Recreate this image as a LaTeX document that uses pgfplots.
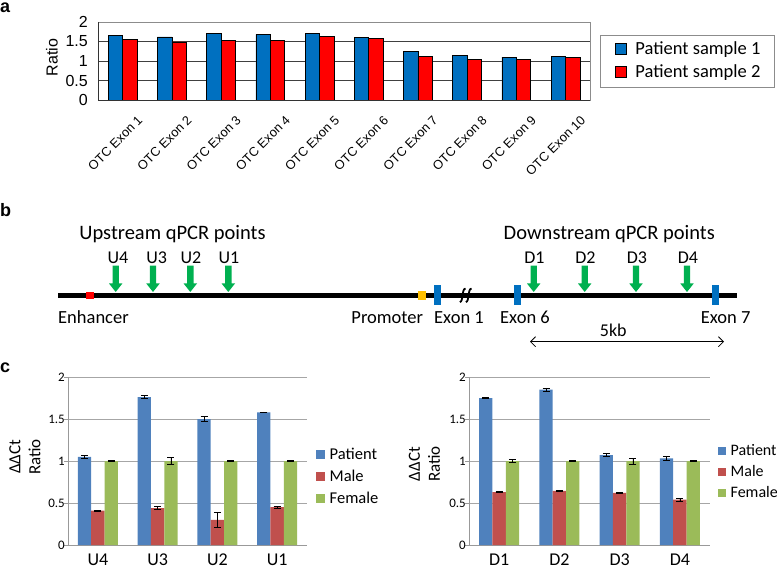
\documentclass[border=0pt]{standalone}
\usepackage{fontspec}
\setmainfont{Carlito}
\newfontfamily\arial{Liberation Sans}
\usepackage{pgfplots}
\pgfplotsset{compat=1.18}
\usetikzlibrary{arrows.meta}
\definecolor{aBlue}{HTML}{0070C0}
\definecolor{aRed}{HTML}{FF0000}
\definecolor{cBlue}{HTML}{4F81BD}
\definecolor{cRed}{HTML}{C0504D}
\definecolor{cGreen}{HTML}{9BBB59}
\definecolor{arrGreen}{HTML}{00B050}
\definecolor{promYel}{HTML}{FFC000}
\definecolor{exBlue}{HTML}{0070C0}
\newcommand{\fs}[1]{\fontsize{#1}{#1}\selectfont}
\newcommand{\garrow}[1]{\fill[arrGreen] (#1-3.2,300.3) -- (#1+3.2,300.3) -- (#1+3.2,282.5) -- (#1+6.7,282.5) -- (#1,274) -- (#1-6.7,282.5) -- (#1-3.2,282.5) -- cycle;}
\pgfplotsset{
  sqlegend/.style={legend image code/.code={\fill[##1] (0pt,-4.5pt) rectangle (11pt,6.5pt);}},
  smallsq/.style={legend image code/.code={\fill[##1] (0pt,-3pt) rectangle (8.5pt,5.5pt);}},
  tinysq/.style={legend image code/.code={\fill[##1] (0pt,-2.5pt) rectangle (7.5pt,5pt);}},
  cbars/.style={
    scale only axis, width=#1, height=168pt,
    xmin=0.5, xmax=4.5, ymin=0, ymax=2,
    ybar=0pt, bar width=13.3pt,
    xtick={1,2,3,4},
    ytick={0,0.5,1,1.5,2},
    ymajorgrids, grid style={black!35, line width=0.8pt},
    axis x line*=bottom, axis y line*=left,
    axis line style={black!40, line width=0.8pt, -},
    x tick style={draw=none},
    y tick style={black!40, line width=0.8pt},
    tick align=outside, major tick length=4pt,
    /pgf/number format/assume math mode=true,
    yticklabel style={font=\fs{13}, inner xsep=1pt, xshift=2pt},
    xticklabel style={font=\fs{18}, anchor=base, inner sep=0pt, yshift=-16pt},
  },
  ebar/.style={error bars/.cd, y dir=both, y explicit,
    error bar style={black, line width=0.7pt},
    error mark options={rotate=90, black, mark size=3.5pt, line width=0.7pt}},
}
\begin{document}
\begin{tikzpicture}[x=1pt,y=1pt]
\useasboundingbox (0,0) rectangle (777,566);
% ---------------- panel a ----------------
\node[anchor=base west, inner sep=0pt, font=\arial\bfseries\fs{18}] at (0,553) {a};
\begin{axis}[
  at={(98pt,466pt)}, anchor=south west, scale only axis,
  width=492pt, height=78pt,
  xmin=0.5, xmax=10.5, ymin=0, ymax=2,
  ybar=0pt, bar width=14.4pt,
  xtick={1,...,10},
  xticklabels={},
  ytick={0,0.5,1,1.5,2},
  extra y ticks={0.5,1,1.5}, extra y tick labels={},
  extra y tick style={grid=major, grid style={black!75, line width=0.8pt}},
  major tick length=0pt,
  axis line style={black!45, line width=0.8pt},
  /pgf/number format/assume math mode=true,
  yticklabel style={font=\arial\fs{16}, inner xsep=0pt, xshift=-10pt},
  ylabel={Ratio},
  every axis y label/.style={at={(axis description cs:-0.0935,0.542)}, rotate=90, anchor=center, font=\arial\fs{16}},
  sqlegend,
  legend cell align=left,
  legend style={at={(1.0203,0.497)}, anchor=west, draw=black!45, line width=0.8pt,
    inner xsep=14.5pt, inner ysep=6pt, font=\fs{18.5}, row sep=6.3pt,
    nodes={inner sep=0pt, text height=13pt, text depth=4pt},
    /tikz/every odd column/.style={column sep=9pt}},
  clip=false,
]
\addplot[fill=aBlue, draw=black, line width=0.6pt] coordinates {
(1,1.65) (2,1.62) (3,1.71) (4,1.68) (5,1.70) (6,1.60) (7,1.24) (8,1.15) (9,1.10) (10,1.12)};
\addlegendentry{Patient sample 1}
\addplot[fill=aRed, draw=black, line width=0.6pt] coordinates {
(1,1.55) (2,1.49) (3,1.53) (4,1.53) (5,1.63) (6,1.57) (7,1.11) (8,1.05) (9,1.05) (10,1.09)};
\addlegendentry{Patient sample 2}
\draw[black!80, line width=0.8pt] (rel axis cs:0,1) -- (rel axis cs:0,0) -- (rel axis cs:1,0);
\pgfplotsinvokeforeach{1,...,10}{
  \node[rotate=45, anchor=east, inner sep=0pt, font=\arial\fs{12.8}] at ([xshift=17.7pt, yshift=-18pt]axis cs:#1,0) {OTC Exon #1};
}
\end{axis}
% ---------------- panel b ----------------
\node[anchor=base west, inner sep=0pt, font=\arial\bfseries\fs{18}] at (0,349) {b};
\node[anchor=base, inner sep=0pt, font=\fs{20.5}] at (172.5,326) {Upstream qPCR points};
\node[anchor=base, inner sep=0pt, font=\fs{20.5}] at (609.3,326) {Downstream qPCR points};
\draw[line width=5.5pt] (58,270.5) -- (737,270.5);
\fill[red] (86.3,266.7) rectangle (93.7,274.3);
\fill[promYel] (418.3,266.5) rectangle (426.3,274.5);
\fill[exBlue] (433.6,261) rectangle (440.6,281);
\fill[exBlue] (514,261) rectangle (521,281);
\fill[exBlue] (712.2,261) rectangle (719,281);
\draw[line width=1.8pt] (459.8,264) .. controls (463.5,264) and (461.5,277) .. (465.5,277.5);
\draw[line width=1.8pt] (465.8,264) .. controls (469.5,264) and (467.5,277) .. (471.5,277.5);
\garrow{115.7}\garrow{153}\garrow{190.3}\garrow{228.3}
\garrow{533.7}\garrow{584.7}\garrow{636}\garrow{687}
\foreach \x/\t in {118/U4,156.7/U3,191/U2,229/U1,534.5/D1,585.5/D2,637/D3,688/D4}
  \node[anchor=base, inner sep=0pt, font=\fs{18}] at (\x,302) {\t};
\node[anchor=base west, inner sep=0pt, font=\fs{18.5}] at (58,243) {Enhancer};
\node[anchor=base east, inner sep=0pt, font=\fs{18.5}] at (423.3,243) {Promoter};
\node[anchor=base west, inner sep=0pt, font=\fs{18.5}] at (434,243) {Exon 1};
\node[anchor=base west, inner sep=0pt, font=\fs{18.5}] at (500,243) {Exon 6};
\node[anchor=base west, inner sep=0pt, font=\fs{18.5}] at (700.7,243) {Exon 7};
\node[anchor=base, inner sep=0pt, font=\fs{18}] at (613.3,229.3) {5kb};
\draw[line width=0.8pt, {Straight Barb[length=5pt,width=10pt]}-{Straight Barb[length=5pt,width=10pt]}] (530,224.3) -- (724,224.3);
% ---------------- panel c ----------------
\node[anchor=base west, inner sep=0pt, font=\arial\bfseries\fs{18}] at (0,194) {c};
\begin{axis}[
  at={(68pt,21pt)}, anchor=south west, cbars=239pt, smallsq,
  xticklabels={U4,U3,U2,U1},
  ylabel={ΔΔCt\\Ratio},
  every axis y label/.style={at={(axis description cs:-0.18,0.524)}, rotate=90, anchor=center, align=center, font=\fontsize{17}{20}\selectfont},
  legend cell align=left,
  legend style={at={(1.0377,0.399)}, anchor=west, draw=none, fill=none, font=\fs{16.5}, row sep=7pt,
    inner sep=0pt, nodes={inner sep=0pt, text height=11pt, text depth=4pt},
    /tikz/every odd column/.style={column sep=5pt}},
]
\addplot[fill=cBlue, draw=none, ebar] coordinates {(1,1.05) +- (0,0.015) (2,1.76) +- (0,0.02) (3,1.50) +- (0,0.03) (4,1.58) +- (0,0.005)};
\addlegendentry{Patient}
\addplot[fill=cRed, draw=none, ebar] coordinates {(1,0.41) +- (0,0.005) (2,0.44) +- (0,0.015) (3,0.30) +- (0,0.09) (4,0.45) +- (0,0.01)};
\addlegendentry{Male}
\addplot[fill=cGreen, draw=none, ebar] coordinates {(1,1.00) +- (0,0.01) (2,1.00) +- (0,0.04) (3,1.00) +- (0,0.005) (4,1.00) +- (0,0.01)};
\addlegendentry{Female}
\end{axis}
\begin{axis}[
  at={(469pt,21pt)}, anchor=south west, cbars=241pt, tinysq,
  xticklabels={D1,D2,D3,D4},
  ylabel={ΔΔCt\\Ratio},
  every axis y label/.style={at={(axis description cs:-0.185,0.482)}, rotate=90, anchor=center, align=center, font=\fontsize{17}{20}\selectfont},
  legend cell align=left,
  legend style={at={(1.033,0.427)}, anchor=west, draw=none, fill=none, font=\fs{16}, row sep=6pt,
    inner sep=0pt, nodes={inner sep=0pt, text height=11pt, text depth=4pt},
    /tikz/every odd column/.style={column sep=5pt}},
]
\addplot[fill=cBlue, draw=none, ebar] coordinates {(1,1.75) +- (0,0.01) (2,1.85) +- (0,0.02) (3,1.07) +- (0,0.02) (4,1.03) +- (0,0.02)};
\addlegendentry{Patient}
\addplot[fill=cRed, draw=none, ebar] coordinates {(1,0.63) +- (0,0.005) (2,0.645) +- (0,0.004) (3,0.62) +- (0,0.003) (4,0.54) +- (0,0.015)};
\addlegendentry{Male}
\addplot[fill=cGreen, draw=none, ebar] coordinates {(1,1.00) +- (0,0.015) (2,1.00) +- (0,0.003) (3,1.00) +- (0,0.035) (4,1.00) +- (0,0.003)};
\addlegendentry{Female}
\end{axis}
\end{tikzpicture}
\end{document}
